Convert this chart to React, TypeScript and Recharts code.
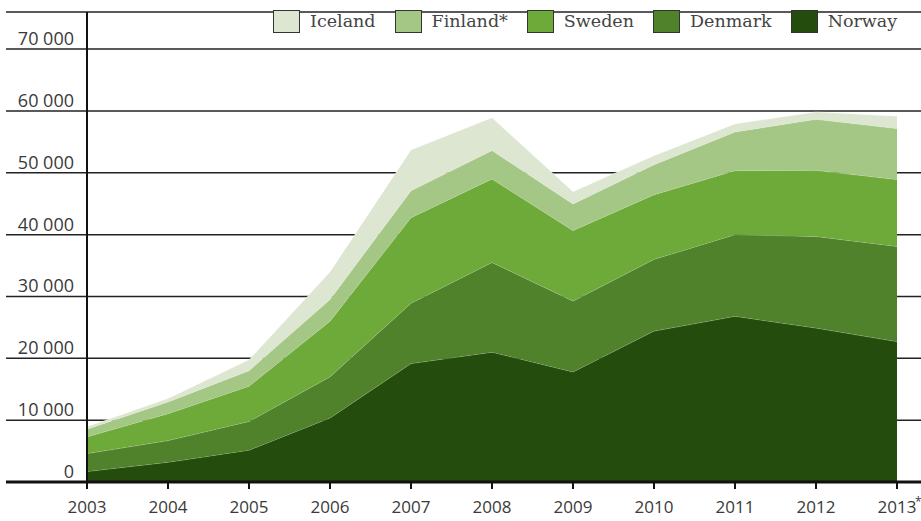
import React from 'react';
import { AreaChart, Area, XAxis, YAxis, CartesianGrid, ReferenceLine, Legend } from 'recharts';

const years = [2003, 2004, 2005, 2006, 2007, 2008, 2009, 2010, 2011, 2012, 2013];
const yearLabels = ['2003', '2004', '2005', '2006', '2007', '2008', '2009', '2010', '2011', '2012', '2013*'];

const norway = [1700, 3200, 5150, 10350, 19150, 21000, 17800, 24400, 26800, 24900, 22700];
const denmark = [2900, 3500, 4650, 6650, 9750, 14500, 11450, 11600, 13200, 14800, 15400];
const sweden = [2700, 4350, 5700, 9000, 13850, 13500, 11400, 10450, 10350, 10700, 10800];
const finland = [1250, 1900, 2500, 3500, 4350, 4600, 4300, 4850, 6250, 8250, 8250];
const iceland = [400, 550, 1750, 4450, 6600, 5300, 2000, 1450, 1300, 1200, 2000];

const yTicks = [0, 10000, 20000, 30000, 40000, 50000, 60000, 70000];

// bottom of the stack first
const SERIES = [
  { key: 'norway', name: 'Norway', values: norway, color: '#244d0d' },
  { key: 'denmark', name: 'Denmark', values: denmark, color: '#4f822a' },
  { key: 'sweden', name: 'Sweden', values: sweden, color: '#6eaa3a' },
  { key: 'finland', name: 'Finland*', values: finland, color: '#a5c785' },
  { key: 'iceland', name: 'Iceland', values: iceland, color: '#dce6d0' },
];

const data = years.map((year, i) => {
  const row: Record<string, number | string> = { year, label: yearLabels[i] };
  SERIES.forEach((s) => {
    row[s.key] = s.values[i];
  });
  return row;
});

const formatThousands = (v: number) =>
  v === 0 ? '0' : `${Math.floor(v / 1000)} ${String(v % 1000).padStart(3, '0')}`;

const YTick = ({ y, payload }: any) => (
  <text
    x={74}
    y={y - 4}
    textAnchor="end"
    fontFamily="'Open Sans', sans-serif"
    fontSize={18}
    fill="#3a3a3a"
  >
    {formatThousands(payload.value)}
  </text>
);

const XTick = ({ x, y, payload }: any) => {
  const idx = years.indexOf(payload.value);
  const label = yearLabels[idx] || String(payload.value);
  const starred = label.endsWith('*');
  return (
    <g>
      <text
        x={x}
        y={y + 22}
        textAnchor="middle"
        fontFamily="'Open Sans', sans-serif"
        fontSize={17}
        fill="#3a3a3a"
      >
        {starred ? label.slice(0, -1) : label}
      </text>
      {starred && (
        <text
          x={x + 18}
          y={y + 15}
          textAnchor="start"
          fontFamily="'Open Sans', sans-serif"
          fontSize={12}
          fill="#3a3a3a"
        >
          *
        </text>
      )}
    </g>
  );
};

const renderLegend = () => (
  <div style={{ display: 'flex', alignItems: 'center' }}>
    {[...SERIES].reverse().map((s) => (
      <div key={s.key} style={{ display: 'flex', alignItems: 'center', marginRight: 19 }}>
        <div
          style={{
            width: 27,
            height: 23,
            background: s.color,
            border: '1px solid #333',
            boxSizing: 'border-box',
            marginRight: 10,
          }}
        />
        <span
          style={{
            fontFamily: "'DejaVu Serif', serif",
            fontSize: 17.5,
            color: '#444',
            lineHeight: '23px',
          }}
        >
          {s.name}
        </span>
      </div>
    ))}
  </div>
);

export default function App() {
  return (
    <div style={{ position: 'absolute', left: 0, top: 0, width: 921, height: 521, background: '#fff' }}>
      <AreaChart width={921} height={521} data={data} margin={{ top: 12, right: 0, bottom: 9, left: 5 }}>
        <CartesianGrid horizontal vertical={false} stroke="#222" strokeWidth={1.5} />
        <XAxis
          dataKey="year"
          type="number"
          domain={[2003, 2013]}
          ticks={years}
          height={30}
          padding={{ left: 81, right: 24 }}
          axisLine={{ stroke: '#111', strokeWidth: 3 }}
          tickLine={{ stroke: '#111', strokeWidth: 2 }}
          tickSize={7}
          tick={<XTick />}
          interval={0}
        />
        <YAxis
          width={1}
          domain={[0, 76000]}
          ticks={yTicks}
          allowDataOverflow
          axisLine={false}
          tickLine={false}
          tick={<YTick />}
          interval={0}
        />
        {SERIES.map((s) => (
          <Area
            key={s.key}
            type="linear"
            dataKey={s.key}
            name={s.name}
            stackId="total"
            fill={s.color}
            fillOpacity={1}
            stroke="rgba(255,255,255,0.3)"
            strokeWidth={1}
            isAnimationActive={false}
          />
        ))}
        <ReferenceLine x={2003} stroke="#111" strokeWidth={2} />
        <Legend
          layout="horizontal"
          verticalAlign="middle"
          align="center"
          content={renderLegend}
          wrapperStyle={{ top: 10, left: 273, width: 648, height: 24 }}
        />
      </AreaChart>
    </div>
  );
}
